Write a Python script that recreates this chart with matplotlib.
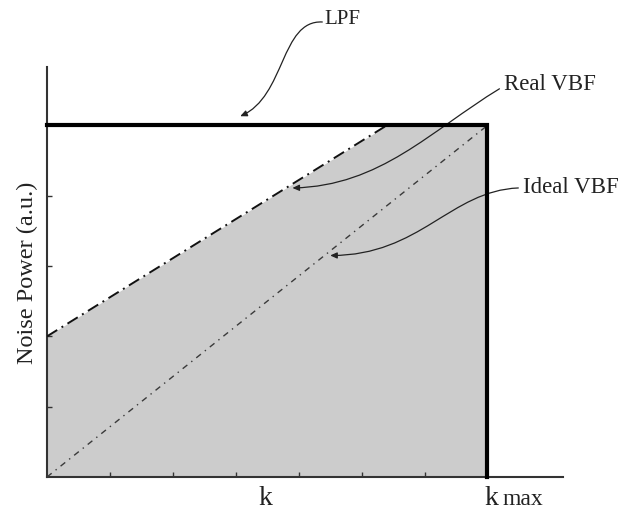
import matplotlib
matplotlib.use("Agg")
import matplotlib.pyplot as plt
import numpy as np
from matplotlib.path import Path
from matplotlib.patches import FancyArrowPatch

plt.rcParams['font.family'] = ['Liberation Serif', 'DejaVu Serif']

# ---- data ----
k_max = 7.0
lpf_level = 5.0
real_vbf_x = [0.0, 5.4]
real_vbf_y = [2.0, 5.0]
ideal_vbf_x = [0.0, 7.0]
ideal_vbf_y = [0.0, 5.0]
fill_x = [0.0, 5.4, 7.0]
fill_y = [2.0, 5.0, 5.0]
x_ticks = [1, 2, 3, 4, 5, 6, 7]
y_ticks = [1, 2, 3, 4, 5]
x_limits = (0, 8.2)
y_limits = (0, 5.83)
ylabel = "Noise Power (a.u.)"
k_label_x = 3.47

# annotation curves (cubic Bezier control points, data coords)
annotations = [
    ("LPF", (4.40, 6.45), [(4.375, 6.47), (3.71, 6.50), (3.79, 5.41), (3.07, 5.13)], 15),
    ("Real VBF", (7.27, 5.52), [(7.19, 5.52), (6.09, 4.92), (5.30, 4.14), (3.90, 4.11)], 16.5),
    ("Ideal VBF", (7.57, 4.05), [(7.49, 4.11), (6.41, 4.07), (5.93, 3.15), (4.50, 3.15)], 16.5),
]

fig = plt.figure(figsize=(6.35, 5.10), dpi=100)
ax = fig.add_axes([47/635, 32/510, (563-47)/635, (478-68)/510])

ax.fill_between(fill_x, 0, fill_y, color='#cccccc', lw=0, zorder=1)
ax.plot(real_vbf_x, real_vbf_y, color='#111111', lw=1.4, dashes=(6.2, 2.6, 1.0, 2.6), zorder=3)
ax.plot(ideal_vbf_x, ideal_vbf_y, color='#3a3a3a', lw=1.0, dashes=(4.3, 3.6, 1.0, 3.6), zorder=3)
ax.plot([0, k_max, k_max], [lpf_level, lpf_level, 0], color='black', lw=3.0,
        solid_joinstyle='miter', zorder=4, clip_on=False)

ax.set_xlim(*x_limits)
ax.set_ylim(*y_limits)
for s in ['top', 'right']:
    ax.spines[s].set_visible(False)
for s in ['left', 'bottom']:
    ax.spines[s].set_linewidth(1.5)
    ax.spines[s].set_color('#333333')
ax.set_xticks(x_ticks)
ax.set_yticks(y_ticks)
ax.set_xticklabels([])
ax.set_yticklabels([])
ax.tick_params(direction='in', length=3.6, width=1.0, color='#333333')
ax.set_ylabel(ylabel, fontsize=17.5, labelpad=3, color='#222222')

trans = ax.get_xaxis_transform()
ax.text(k_label_x, -0.066, "k", transform=trans, ha='center', va='baseline', fontsize=20, color='#222222')
ax.text(k_max - 0.04, -0.066, "k", transform=trans, ha='left', va='baseline', fontsize=20, color='#222222')
ax.text(k_max + 0.24, -0.066, "max", transform=trans, ha='left', va='baseline', fontsize=17, color='#222222')

for label, tpos, pts, fs in annotations:
    ax.text(tpos[0], tpos[1], label, ha='left', va='baseline', fontsize=fs, color='#222222', clip_on=False)
    path = Path(pts, [Path.MOVETO, Path.CURVE4, Path.CURVE4, Path.CURVE4])
    arr = FancyArrowPatch(path=path, arrowstyle='-|>,head_length=4,head_width=1.8',
                          color='#222222', lw=0.9, transform=ax.transData, clip_on=False)
    ax.add_patch(arr)

fig.savefig("out.png", dpi=100)
